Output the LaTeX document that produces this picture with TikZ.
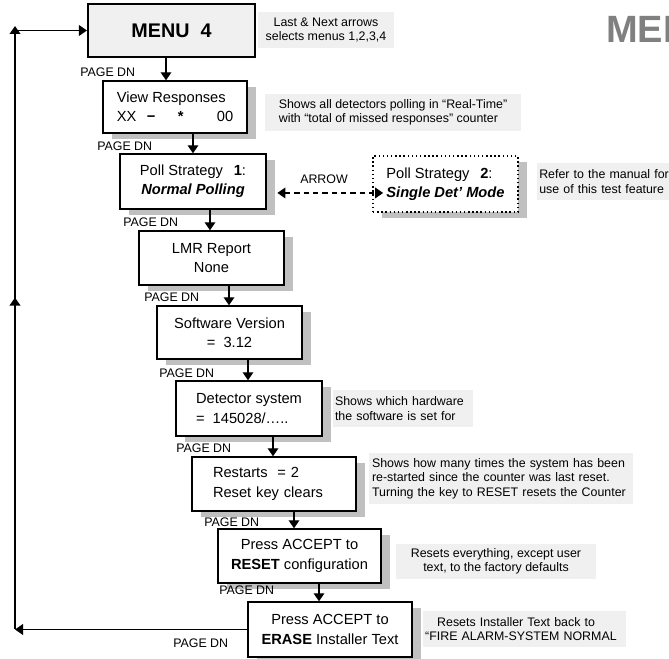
\documentclass[tikz,border=0pt]{standalone}
\usepackage{fontspec}
\setmainfont{Liberation Sans}
\usetikzlibrary{arrows.meta,shadows,decorations.markings}

\definecolor{notegray}{HTML}{F0F0F0}
\definecolor{shadowgray}{HTML}{C0C0C0}
\definecolor{menugray}{HTML}{F0F0F0}
\definecolor{titlegray}{HTML}{808080}

\newcommand\boxfont{\fontsize{11}{14.5}\selectfont}
\newcommand\notefont{\fontsize{9.3}{10.8}\selectfont}

\begin{document}
\begin{tikzpicture}[
    x=0.75pt, y=-0.75pt,
    >={Triangle[length=6pt,width=8pt]},
    boxbase/.style={
        draw,
        line width=1.1pt,
        fill=white,
        font=\boxfont,
        align=center,
        inner sep=0pt
    },
    screen/.style={
        boxbase,
        drop shadow={shadow xshift=7pt, shadow yshift=-4.5pt,
            fill=shadowgray, opacity=1}
    },
    note/.style={fill=notegray, font=\notefont, inner ysep=0pt},
    pagedn/.style={font=\notefont, anchor=west, inner sep=0pt},
    flow/.style={->, line width=1.1pt}
]
\useasboundingbox (0,0) rectangle (669,659);

    % Title (cut off at the page edge)
    \node[anchor=base west, inner sep=0pt, text=titlegray,
        font=\fontsize{28.5}{28.5}\selectfont\bfseries] (title) at (606,43) {MEN};

    % Menu box
    \node[
        boxbase,
        line width=1.8pt,
        fill=menugray,
        minimum width=125pt,
        minimum height=39.75pt,
        font=\fontsize{14.8}{16}\selectfont\bfseries
    ] (menu) at (171.5,30.5) {MENU\ \ 4};

    % Screens
    \node[screen, minimum width=108pt, minimum height=39pt, align=left]
        (view) at (175,107)
        {View Responses\\
         XX\hspace{7.8pt}\textbf{−}\hspace{16.9pt}\textbf{*}\hspace{25pt}00};

    \node[screen, minimum width=109.5pt, minimum height=41.25pt]
        (poll1) at (193,181.5)
        {Poll Strategy\hspace{5pt} \textbf{1}:\\ \textbf{\itshape Normal Polling}};

    \node[screen, dotted, line width=0.8pt, minimum width=108.75pt,
        minimum height=42pt, align=left]
        (poll2) at (445.5,184)
        {Poll Strategy\hspace{5pt} \textbf{2}:\\ \textbf{\itshape Single Det’ Mode}};

    \node[screen, minimum width=108.75pt, minimum height=40.5pt]
        (lmr) at (211.5,258) {LMR Report\\None};

    \node[screen, minimum width=108.75pt, minimum height=39.75pt]
        (soft) at (229.5,332.5) {Software Version\\=\ \ 3.12};

    \node[screen, minimum width=109.5pt, minimum height=41.25pt, align=left]
        (det) at (249,408.5) {Detector system\\ =\ \ 145028/…..};

    \node[screen, minimum width=123pt, minimum height=40.5pt, align=left,
        text width=91.5pt, inner xsep=15.75pt]
        (restarts) at (274,484) {Restarts\ \ = 2\\Reset key clears};

    \node[screen, minimum width=122.25pt, minimum height=40.5pt]
        (reset) at (299.5,556) {Press ACCEPT to\\\textbf{RESET} configuration};

    \node[screen, minimum width=123pt, minimum height=41.25pt]
        (erase) at (330,629.5) {Press ACCEPT to\\\textbf{ERASE} Installer Text};

    % Notes
    \node[note, align=center, minimum width=102pt, minimum height=27pt]
        (n0) at (326,30) {Last \& Next arrows\\selects menus 1,2,3,4};
    \node[note, align=left, minimum width=192pt, minimum height=27.75pt]
        (n1) at (393,112.5)
        {Shows all detectors polling in “Real-Time”\\with “total of missed responses” counter};
    \node[note, align=left, anchor=west, text width=107pt, inner xsep=1.5pt,
        minimum height=27.75pt]
        (n2) at (537,181.5) {Refer to the manual for\\use of this test feature};
    \node[note, align=left, text width=102pt, inner xsep=1.5pt,
        minimum height=27.75pt]
        (n3) at (403,408.5) {Shows which hardware\\the software is set for};
    \node[note, align=left, text width=193.5pt, inner xsep=2.25pt,
        minimum height=38.25pt]
        (n4) at (501,478.5)
        {Shows how many times the system has been\\re-started since the counter was last reset.\\Turning the key to RESET resets the Counter};
    \node[note, align=center, minimum width=150pt, minimum height=26.25pt]
        (n5) at (496,561.5) {Resets everything, except user\\text, to the factory defaults};
    \node[note, align=left, text width=149pt, inner xsep=1.5pt,
        minimum height=27pt]
        (n6) at (524.5,629)
        {\hspace*{9pt}Resets Installer Text back to\\“FIRE ALARM-SYSTEM NORMAL};

    % PAGE DN steps
    \foreach \a/\b/\x in {menu/view/166, view/poll1/193, poll1/lmr/210,
        lmr/soft/229, soft/det/248, det/restarts/273,
        restarts/reset/294, reset/erase/319}{
        \coordinate (ax) at (\x,0);
        \draw[flow] (ax |- \a.south) -- (ax |- \b.north);
    }

    \foreach \x/\y [count=\i] in {80/72, 97/146, 123/222, 144/297, 159/373,
        176/448, 204/522, 219/590, 173/643}
        \node[pagedn] (pd\i) at (\x,\y) {PAGE DN};

    % ARROW toggle
    \node[pagedn] (arrowlbl) at (300,179) {ARROW};
    \draw[<->, dash pattern=on 4pt off 3pt, line width=1pt]
        ([xshift=8pt,yshift=-8.6pt]poll1.east) --
        ([xshift=8pt,yshift=-8.6pt]poll1.east -| poll2.west);

    % Return loop
    \coordinate (loopx) at (15,0);
    \coordinate (looptop) at (15,26);
    \draw[flow] (erase.west) -- (erase.west -| loopx);
    \draw[flow, postaction={decorate},
        decoration={markings, mark=at position 0.55 with {\arrow{>}}}]
        (erase.west -| loopx) -- (looptop);
    \draw[flow] (menu.west -| loopx) -- (menu.west);

\end{tikzpicture}
\end{document}
